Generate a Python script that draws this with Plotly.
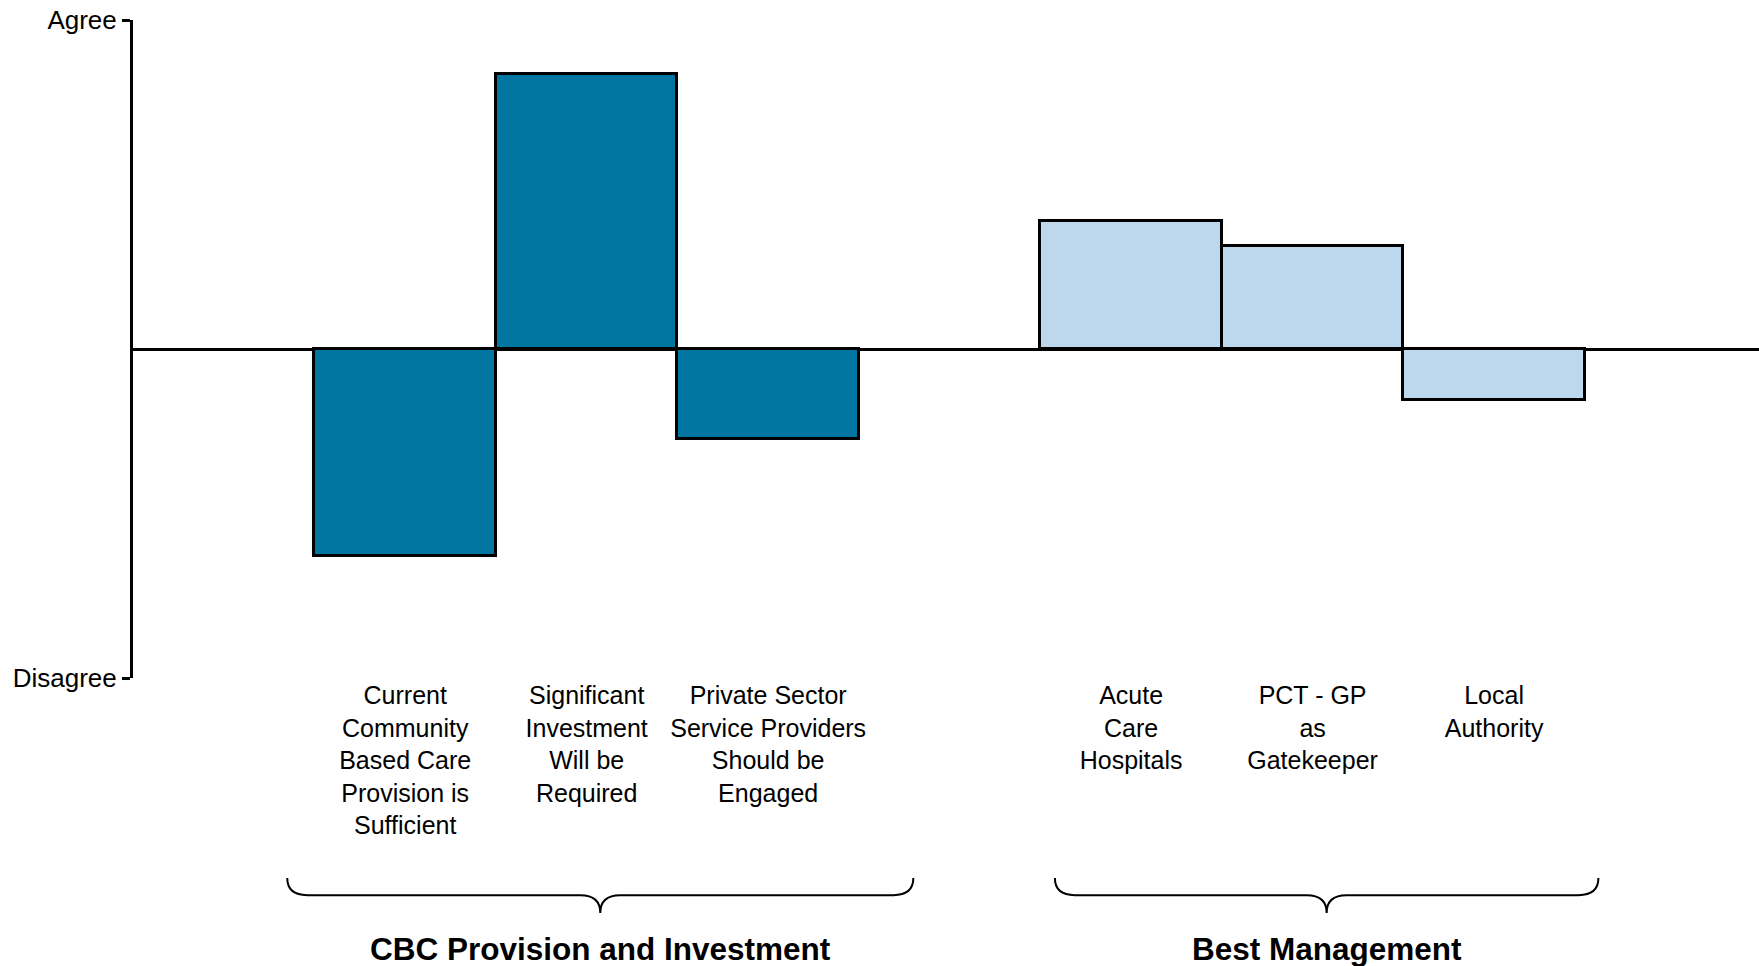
import plotly.graph_objects as go

# categories (empty slots separate the two groups)
categories = ["", "Current<br>Community<br>Based Care<br>Provision is<br>Sufficient",
              "Significant<br>Investment<br>Will be<br>Required",
              "Private Sector<br>Service Providers<br>Should be<br>Engaged",
              " ",
              "Acute<br>Care<br>Hospitals",
              "PCT - GP<br>as<br>Gatekeeper",
              "Local<br>Authority",
              "  "]
scores = [None, -0.63, 0.835, -0.273, None, 0.389, 0.313, -0.155, None]
bar_colors = ["#0076A0"] * 4 + ["#BDD7EC"] * 5

groups = ["CBC Provision and Investment", "Best Management"]
group_spans = [(0.35, 3.80), (4.58, 7.575)]

FONT = "Arial, Liberation Sans, sans-serif"
x_pos = list(range(len(categories)))

fig = go.Figure(
    go.Bar(
        x=x_pos,
        y=scores,
        width=1,
        marker=dict(color=bar_colors, line=dict(color="black", width=3)),
        hoverinfo="skip",
    )
)


def brace(x0, x1, y_top=-0.304, y_mid=-0.330, y_tip=-0.357, dx=0.11):
    xc = (x0 + x1) / 2
    return (
        f"M {x0},{y_top} Q {x0},{y_mid} {x0 + dx},{y_mid} "
        f"L {xc - dx},{y_mid} Q {xc},{y_mid} {xc},{y_tip} "
        f"Q {xc},{y_mid} {xc + dx},{y_mid} "
        f"L {x1 - dx},{y_mid} Q {x1},{y_mid} {x1},{y_top}"
    )


shapes = []
annotations = []
for name, (a, b) in zip(groups, group_spans):
    shapes.append(dict(type="path", xref="x", yref="paper", path=brace(a, b),
                       line=dict(color="black", width=2)))
    annotations.append(dict(x=(a + b) / 2, xref="x", y=-0.412, yref="paper",
                            text=f"<b>{name}</b>", showarrow=False,
                            yanchor="middle",
                            font=dict(family=FONT, size=31.5, color="black")))

fig.update_layout(
    width=1759,
    height=966,
    margin=dict(l=133, r=0, t=20, b=288),
    paper_bgcolor="white",
    plot_bgcolor="white",
    showlegend=False,
    bargap=0,
    font=dict(family=FONT, size=25, color="black"),
    xaxis=dict(
        range=[-0.5, 8.46],
        tickvals=x_pos,
        ticktext=categories,
        showgrid=False,
        zeroline=False,
        showline=False,
        ticks="",
        tickangle=0,
        tickfont=dict(family=FONT, size=25, color="black"),
    ),
    yaxis=dict(
        range=[-1, 1],
        tickvals=[-1, 1],
        ticktext=["Disagree", "Agree"],
        showgrid=False,
        zeroline=True,
        zerolinecolor="black",
        zerolinewidth=3,
        showline=True,
        linecolor="black",
        linewidth=3,
        ticks="outside",
        ticklen=8,
        tickwidth=2.5,
        tickcolor="black",
        tickfont=dict(family=FONT, size=26, color="black"),
    ),
    shapes=shapes,
    annotations=annotations,
)

# page body margin off so the figure sits at the window's top-left corner
fig.write_html(
    "out.html",
    config={"displayModeBar": False},
    post_script="document.body.style.margin='0';document.body.style.overflow='hidden';",
)
